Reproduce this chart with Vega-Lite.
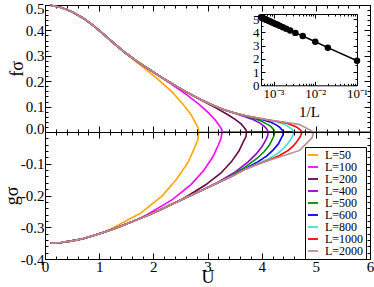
{
"$schema":"https://vega.github.io/schema/vega-lite/v6.json",
"padding":{"left":2,"top":0,"right":0,"bottom":0},
"datasets":{
"f":[
{"L":"L=50","U":0.1,"f":0.499},{"L":"L=50","U":0.3,"f":0.49},{"L":"L=50","U":0.5,"f":0.473},{"L":"L=50","U":0.7,"f":0.449},{"L":"L=50","U":0.9,"f":0.418},{"L":"L=50","U":1.1,"f":0.381},{"L":"L=50","U":1.3,"f":0.344},{"L":"L=50","U":1.5,"f":0.309},{"L":"L=50","U":1.64,"f":0.284},{"L":"L=50","U":2.04,"f":0.216},{"L":"L=50","U":2.34,"f":0.159},{"L":"L=50","U":2.54,"f":0.111},{"L":"L=50","U":2.69,"f":0.07},{"L":"L=50","U":2.78,"f":0.036},{"L":"L=50","U":2.825,"f":0.017},{"L":"L=50","U":2.84,"f":0},{"L":"L=50","U":6,"f":0},
{"L":"L=100","U":0.1,"f":0.499},{"L":"L=100","U":0.3,"f":0.49},{"L":"L=100","U":0.5,"f":0.473},{"L":"L=100","U":0.7,"f":0.449},{"L":"L=100","U":0.9,"f":0.418},{"L":"L=100","U":1.1,"f":0.381},{"L":"L=100","U":1.3,"f":0.344},{"L":"L=100","U":1.5,"f":0.309},{"L":"L=100","U":1.7,"f":0.278},{"L":"L=100","U":1.9,"f":0.25},{"L":"L=100","U":2.1,"f":0.222},{"L":"L=100","U":2.25,"f":0.2},{"L":"L=100","U":2.59,"f":0.151},{"L":"L=100","U":2.845,"f":0.109},{"L":"L=100","U":3.015,"f":0.076},{"L":"L=100","U":3.14,"f":0.048},{"L":"L=100","U":3.22,"f":0.025},{"L":"L=100","U":3.26,"f":0.012},{"L":"L=100","U":3.27,"f":0},{"L":"L=100","U":6,"f":0},
{"L":"L=200","U":0.1,"f":0.499},{"L":"L=200","U":0.3,"f":0.49},{"L":"L=200","U":0.5,"f":0.473},{"L":"L=200","U":0.7,"f":0.449},{"L":"L=200","U":0.9,"f":0.418},{"L":"L=200","U":1.1,"f":0.381},{"L":"L=200","U":1.3,"f":0.344},{"L":"L=200","U":1.5,"f":0.309},{"L":"L=200","U":1.7,"f":0.278},{"L":"L=200","U":1.9,"f":0.25},{"L":"L=200","U":2.1,"f":0.222},{"L":"L=200","U":2.3,"f":0.196},{"L":"L=200","U":2.5,"f":0.171},{"L":"L=200","U":2.7,"f":0.147},{"L":"L=200","U":2.88,"f":0.126},{"L":"L=200","U":3.16,"f":0.094},{"L":"L=200","U":3.37,"f":0.069},{"L":"L=200","U":3.51,"f":0.05},{"L":"L=200","U":3.62,"f":0.032},{"L":"L=200","U":3.68,"f":0.017},{"L":"L=200","U":3.71,"f":0.008},{"L":"L=200","U":3.72,"f":0},{"L":"L=200","U":6,"f":0},
{"L":"L=400","U":0.1,"f":0.499},{"L":"L=400","U":0.3,"f":0.49},{"L":"L=400","U":0.5,"f":0.473},{"L":"L=400","U":0.7,"f":0.449},{"L":"L=400","U":0.9,"f":0.418},{"L":"L=400","U":1.1,"f":0.381},{"L":"L=400","U":1.3,"f":0.344},{"L":"L=400","U":1.5,"f":0.309},{"L":"L=400","U":1.7,"f":0.278},{"L":"L=400","U":1.9,"f":0.25},{"L":"L=400","U":2.1,"f":0.222},{"L":"L=400","U":2.3,"f":0.196},{"L":"L=400","U":2.5,"f":0.171},{"L":"L=400","U":2.7,"f":0.147},{"L":"L=400","U":2.9,"f":0.125},{"L":"L=400","U":3.1,"f":0.105},{"L":"L=400","U":3.3,"f":0.088},{"L":"L=400","U":3.46,"f":0.077},{"L":"L=400","U":3.68,"f":0.061},{"L":"L=400","U":3.85,"f":0.048},{"L":"L=400","U":3.96,"f":0.036},{"L":"L=400","U":4.04,"f":0.024},{"L":"L=400","U":4.09,"f":0.013},{"L":"L=400","U":4.11,"f":0.006},{"L":"L=400","U":4.12,"f":0},{"L":"L=400","U":6,"f":0},
{"L":"L=500","U":0.1,"f":0.499},{"L":"L=500","U":0.3,"f":0.49},{"L":"L=500","U":0.5,"f":0.473},{"L":"L=500","U":0.7,"f":0.449},{"L":"L=500","U":0.9,"f":0.418},{"L":"L=500","U":1.1,"f":0.381},{"L":"L=500","U":1.3,"f":0.344},{"L":"L=500","U":1.5,"f":0.309},{"L":"L=500","U":1.7,"f":0.278},{"L":"L=500","U":1.9,"f":0.25},{"L":"L=500","U":2.1,"f":0.222},{"L":"L=500","U":2.3,"f":0.196},{"L":"L=500","U":2.5,"f":0.171},{"L":"L=500","U":2.7,"f":0.147},{"L":"L=500","U":2.9,"f":0.125},{"L":"L=500","U":3.1,"f":0.105},{"L":"L=500","U":3.3,"f":0.088},{"L":"L=500","U":3.5,"f":0.075},{"L":"L=500","U":3.64,"f":0.067},{"L":"L=500","U":3.84,"f":0.055},{"L":"L=500","U":3.99,"f":0.043},{"L":"L=500","U":4.09,"f":0.032},{"L":"L=500","U":4.17,"f":0.022},{"L":"L=500","U":4.21,"f":0.012},{"L":"L=500","U":4.23,"f":0.006},{"L":"L=500","U":4.24,"f":0},{"L":"L=500","U":6,"f":0},
{"L":"L=600","U":0.1,"f":0.499},{"L":"L=600","U":0.3,"f":0.49},{"L":"L=600","U":0.5,"f":0.473},{"L":"L=600","U":0.7,"f":0.449},{"L":"L=600","U":0.9,"f":0.418},{"L":"L=600","U":1.1,"f":0.381},{"L":"L=600","U":1.3,"f":0.344},{"L":"L=600","U":1.5,"f":0.309},{"L":"L=600","U":1.7,"f":0.278},{"L":"L=600","U":1.9,"f":0.25},{"L":"L=600","U":2.1,"f":0.222},{"L":"L=600","U":2.3,"f":0.196},{"L":"L=600","U":2.5,"f":0.171},{"L":"L=600","U":2.7,"f":0.147},{"L":"L=600","U":2.9,"f":0.125},{"L":"L=600","U":3.1,"f":0.105},{"L":"L=600","U":3.3,"f":0.088},{"L":"L=600","U":3.5,"f":0.075},{"L":"L=600","U":3.7,"f":0.064},{"L":"L=600","U":3.84,"f":0.058},{"L":"L=600","U":4.02,"f":0.048},{"L":"L=600","U":4.17,"f":0.038},{"L":"L=600","U":4.26,"f":0.029},{"L":"L=600","U":4.33,"f":0.019},{"L":"L=600","U":4.37,"f":0.01},{"L":"L=600","U":4.39,"f":0.005},{"L":"L=600","U":4.4,"f":0},{"L":"L=600","U":6,"f":0},
{"L":"L=800","U":0.1,"f":0.499},{"L":"L=800","U":0.3,"f":0.49},{"L":"L=800","U":0.5,"f":0.473},{"L":"L=800","U":0.7,"f":0.449},{"L":"L=800","U":0.9,"f":0.418},{"L":"L=800","U":1.1,"f":0.381},{"L":"L=800","U":1.3,"f":0.344},{"L":"L=800","U":1.5,"f":0.309},{"L":"L=800","U":1.7,"f":0.278},{"L":"L=800","U":1.9,"f":0.25},{"L":"L=800","U":2.1,"f":0.222},{"L":"L=800","U":2.3,"f":0.196},{"L":"L=800","U":2.5,"f":0.171},{"L":"L=800","U":2.7,"f":0.147},{"L":"L=800","U":2.9,"f":0.125},{"L":"L=800","U":3.1,"f":0.105},{"L":"L=800","U":3.3,"f":0.088},{"L":"L=800","U":3.5,"f":0.075},{"L":"L=800","U":3.7,"f":0.064},{"L":"L=800","U":3.9,"f":0.056},{"L":"L=800","U":4.09,"f":0.048},{"L":"L=800","U":4.25,"f":0.041},{"L":"L=800","U":4.38,"f":0.033},{"L":"L=800","U":4.46,"f":0.025},{"L":"L=800","U":4.53,"f":0.016},{"L":"L=800","U":4.57,"f":0.009},{"L":"L=800","U":4.58,"f":0.004},{"L":"L=800","U":4.59,"f":0},{"L":"L=800","U":6,"f":0},
{"L":"L=1000","U":0.1,"f":0.499},{"L":"L=1000","U":0.3,"f":0.49},{"L":"L=1000","U":0.5,"f":0.473},{"L":"L=1000","U":0.7,"f":0.449},{"L":"L=1000","U":0.9,"f":0.418},{"L":"L=1000","U":1.1,"f":0.381},{"L":"L=1000","U":1.3,"f":0.344},{"L":"L=1000","U":1.5,"f":0.309},{"L":"L=1000","U":1.7,"f":0.278},{"L":"L=1000","U":1.9,"f":0.25},{"L":"L=1000","U":2.1,"f":0.222},{"L":"L=1000","U":2.3,"f":0.196},{"L":"L=1000","U":2.5,"f":0.171},{"L":"L=1000","U":2.7,"f":0.147},{"L":"L=1000","U":2.9,"f":0.125},{"L":"L=1000","U":3.1,"f":0.105},{"L":"L=1000","U":3.3,"f":0.088},{"L":"L=1000","U":3.5,"f":0.075},{"L":"L=1000","U":3.7,"f":0.064},{"L":"L=1000","U":3.9,"f":0.056},{"L":"L=1000","U":4.1,"f":0.048},{"L":"L=1000","U":4.28,"f":0.042},{"L":"L=1000","U":4.44,"f":0.036},{"L":"L=1000","U":4.55,"f":0.028},{"L":"L=1000","U":4.63,"f":0.021},{"L":"L=1000","U":4.68,"f":0.014},{"L":"L=1000","U":4.72,"f":0.007},{"L":"L=1000","U":4.73,"f":0.004},{"L":"L=1000","U":4.74,"f":0},{"L":"L=1000","U":6,"f":0},
{"L":"L=2000","U":0.1,"f":0.499},{"L":"L=2000","U":0.3,"f":0.49},{"L":"L=2000","U":0.5,"f":0.473},{"L":"L=2000","U":0.7,"f":0.449},{"L":"L=2000","U":0.9,"f":0.418},{"L":"L=2000","U":1.1,"f":0.381},{"L":"L=2000","U":1.3,"f":0.344},{"L":"L=2000","U":1.5,"f":0.309},{"L":"L=2000","U":1.7,"f":0.278},{"L":"L=2000","U":1.9,"f":0.25},{"L":"L=2000","U":2.1,"f":0.222},{"L":"L=2000","U":2.3,"f":0.196},{"L":"L=2000","U":2.5,"f":0.171},{"L":"L=2000","U":2.7,"f":0.147},{"L":"L=2000","U":2.9,"f":0.125},{"L":"L=2000","U":3.1,"f":0.105},{"L":"L=2000","U":3.3,"f":0.088},{"L":"L=2000","U":3.5,"f":0.075},{"L":"L=2000","U":3.7,"f":0.064},{"L":"L=2000","U":3.9,"f":0.056},{"L":"L=2000","U":4.1,"f":0.048},{"L":"L=2000","U":4.3,"f":0.042},{"L":"L=2000","U":4.5,"f":0.036},{"L":"L=2000","U":4.7,"f":0.029},{"L":"L=2000","U":4.96,"f":0},{"L":"L=2000","U":6,"f":0}
],
"g":[
{"L":"L=50","U":0.1,"g":-0.35},{"L":"L=50","U":0.3,"g":-0.348},{"L":"L=50","U":0.5,"g":-0.343},{"L":"L=50","U":0.7,"g":-0.336},{"L":"L=50","U":0.9,"g":-0.326},{"L":"L=50","U":1.1,"g":-0.315},{"L":"L=50","U":1.22,"g":-0.305},{"L":"L=50","U":1.76,"g":-0.256},{"L":"L=50","U":2.165,"g":-0.201},{"L":"L=50","U":2.435,"g":-0.147},{"L":"L=50","U":2.64,"g":-0.096},{"L":"L=50","U":2.76,"g":-0.05},{"L":"L=50","U":2.82,"g":-0.025},{"L":"L=50","U":2.84,"g":0},
{"L":"L=100","U":0.1,"g":-0.35},{"L":"L=100","U":0.3,"g":-0.348},{"L":"L=100","U":0.5,"g":-0.343},{"L":"L=100","U":0.7,"g":-0.336},{"L":"L=100","U":0.9,"g":-0.326},{"L":"L=100","U":1.1,"g":-0.315},{"L":"L=100","U":1.3,"g":-0.303},{"L":"L=100","U":1.5,"g":-0.29},{"L":"L=100","U":1.7,"g":-0.276},{"L":"L=100","U":1.89,"g":-0.26},{"L":"L=100","U":2.35,"g":-0.213},{"L":"L=100","U":2.7,"g":-0.165},{"L":"L=100","U":2.93,"g":-0.121},{"L":"L=100","U":3.1,"g":-0.078},{"L":"L=100","U":3.2,"g":-0.041},{"L":"L=100","U":3.25,"g":-0.02},{"L":"L=100","U":3.27,"g":0},
{"L":"L=200","U":0.1,"g":-0.35},{"L":"L=200","U":0.3,"g":-0.348},{"L":"L=200","U":0.5,"g":-0.343},{"L":"L=200","U":0.7,"g":-0.336},{"L":"L=200","U":0.9,"g":-0.326},{"L":"L=200","U":1.1,"g":-0.315},{"L":"L=200","U":1.3,"g":-0.303},{"L":"L=200","U":1.5,"g":-0.29},{"L":"L=200","U":1.7,"g":-0.276},{"L":"L=200","U":1.9,"g":-0.262},{"L":"L=200","U":2.1,"g":-0.247},{"L":"L=200","U":2.3,"g":-0.231},{"L":"L=200","U":2.5,"g":-0.215},{"L":"L=200","U":2.58,"g":-0.207},{"L":"L=200","U":2.96,"g":-0.167},{"L":"L=200","U":3.25,"g":-0.129},{"L":"L=200","U":3.44,"g":-0.094},{"L":"L=200","U":3.58,"g":-0.06},{"L":"L=200","U":3.66,"g":-0.031},{"L":"L=200","U":3.71,"g":-0.015},{"L":"L=200","U":3.72,"g":0},
{"L":"L=400","U":0.1,"g":-0.35},{"L":"L=400","U":0.3,"g":-0.348},{"L":"L=400","U":0.5,"g":-0.343},{"L":"L=400","U":0.7,"g":-0.336},{"L":"L=400","U":0.9,"g":-0.326},{"L":"L=400","U":1.1,"g":-0.315},{"L":"L=400","U":1.3,"g":-0.303},{"L":"L=400","U":1.5,"g":-0.29},{"L":"L=400","U":1.7,"g":-0.276},{"L":"L=400","U":1.9,"g":-0.262},{"L":"L=400","U":2.1,"g":-0.247},{"L":"L=400","U":2.3,"g":-0.231},{"L":"L=400","U":2.5,"g":-0.215},{"L":"L=400","U":2.7,"g":-0.199},{"L":"L=400","U":2.9,"g":-0.183},{"L":"L=400","U":3.1,"g":-0.167},{"L":"L=400","U":3.22,"g":-0.156},{"L":"L=400","U":3.52,"g":-0.125},{"L":"L=400","U":3.75,"g":-0.094},{"L":"L=400","U":3.9,"g":-0.069},{"L":"L=400","U":4.01,"g":-0.045},{"L":"L=400","U":4.08,"g":-0.024},{"L":"L=400","U":4.11,"g":-0.012},{"L":"L=400","U":4.12,"g":0},
{"L":"L=500","U":0.1,"g":-0.35},{"L":"L=500","U":0.3,"g":-0.348},{"L":"L=500","U":0.5,"g":-0.343},{"L":"L=500","U":0.7,"g":-0.336},{"L":"L=500","U":0.9,"g":-0.326},{"L":"L=500","U":1.1,"g":-0.315},{"L":"L=500","U":1.3,"g":-0.303},{"L":"L=500","U":1.5,"g":-0.29},{"L":"L=500","U":1.7,"g":-0.276},{"L":"L=500","U":1.9,"g":-0.262},{"L":"L=500","U":2.1,"g":-0.247},{"L":"L=500","U":2.3,"g":-0.231},{"L":"L=500","U":2.5,"g":-0.215},{"L":"L=500","U":2.7,"g":-0.199},{"L":"L=500","U":2.9,"g":-0.183},{"L":"L=500","U":3.1,"g":-0.167},{"L":"L=500","U":3.3,"g":-0.151},{"L":"L=500","U":3.42,"g":-0.14},{"L":"L=500","U":3.7,"g":-0.11},{"L":"L=500","U":3.9,"g":-0.085},{"L":"L=500","U":4.04,"g":-0.063},{"L":"L=500","U":4.14,"g":-0.042},{"L":"L=500","U":4.2,"g":-0.022},{"L":"L=500","U":4.23,"g":-0.011},{"L":"L=500","U":4.24,"g":0},
{"L":"L=600","U":0.1,"g":-0.35},{"L":"L=600","U":0.3,"g":-0.348},{"L":"L=600","U":0.5,"g":-0.343},{"L":"L=600","U":0.7,"g":-0.336},{"L":"L=600","U":0.9,"g":-0.326},{"L":"L=600","U":1.1,"g":-0.315},{"L":"L=600","U":1.3,"g":-0.303},{"L":"L=600","U":1.5,"g":-0.29},{"L":"L=600","U":1.7,"g":-0.276},{"L":"L=600","U":1.9,"g":-0.262},{"L":"L=600","U":2.1,"g":-0.247},{"L":"L=600","U":2.3,"g":-0.231},{"L":"L=600","U":2.5,"g":-0.215},{"L":"L=600","U":2.7,"g":-0.199},{"L":"L=600","U":2.9,"g":-0.183},{"L":"L=600","U":3.1,"g":-0.167},{"L":"L=600","U":3.3,"g":-0.151},{"L":"L=600","U":3.5,"g":-0.135},{"L":"L=600","U":3.64,"g":-0.121},{"L":"L=600","U":3.9,"g":-0.097},{"L":"L=600","U":4.09,"g":-0.076},{"L":"L=600","U":4.21,"g":-0.057},{"L":"L=600","U":4.31,"g":-0.037},{"L":"L=600","U":4.36,"g":-0.02},{"L":"L=600","U":4.39,"g":-0.01},{"L":"L=600","U":4.4,"g":0},
{"L":"L=800","U":0.1,"g":-0.35},{"L":"L=800","U":0.3,"g":-0.348},{"L":"L=800","U":0.5,"g":-0.343},{"L":"L=800","U":0.7,"g":-0.336},{"L":"L=800","U":0.9,"g":-0.326},{"L":"L=800","U":1.1,"g":-0.315},{"L":"L=800","U":1.3,"g":-0.303},{"L":"L=800","U":1.5,"g":-0.29},{"L":"L=800","U":1.7,"g":-0.276},{"L":"L=800","U":1.9,"g":-0.262},{"L":"L=800","U":2.1,"g":-0.247},{"L":"L=800","U":2.3,"g":-0.231},{"L":"L=800","U":2.5,"g":-0.215},{"L":"L=800","U":2.7,"g":-0.199},{"L":"L=800","U":2.9,"g":-0.183},{"L":"L=800","U":3.1,"g":-0.167},{"L":"L=800","U":3.3,"g":-0.151},{"L":"L=800","U":3.5,"g":-0.135},{"L":"L=800","U":3.7,"g":-0.117},{"L":"L=800","U":3.91,"g":-0.101},{"L":"L=800","U":4.13,"g":-0.084},{"L":"L=800","U":4.31,"g":-0.066},{"L":"L=800","U":4.42,"g":-0.049},{"L":"L=800","U":4.5,"g":-0.032},{"L":"L=800","U":4.56,"g":-0.017},{"L":"L=800","U":4.58,"g":-0.008},{"L":"L=800","U":4.59,"g":0},
{"L":"L=1000","U":0.1,"g":-0.35},{"L":"L=1000","U":0.3,"g":-0.348},{"L":"L=1000","U":0.5,"g":-0.343},{"L":"L=1000","U":0.7,"g":-0.336},{"L":"L=1000","U":0.9,"g":-0.326},{"L":"L=1000","U":1.1,"g":-0.315},{"L":"L=1000","U":1.3,"g":-0.303},{"L":"L=1000","U":1.5,"g":-0.29},{"L":"L=1000","U":1.7,"g":-0.276},{"L":"L=1000","U":1.9,"g":-0.262},{"L":"L=1000","U":2.1,"g":-0.247},{"L":"L=1000","U":2.3,"g":-0.231},{"L":"L=1000","U":2.5,"g":-0.215},{"L":"L=1000","U":2.7,"g":-0.199},{"L":"L=1000","U":2.9,"g":-0.183},{"L":"L=1000","U":3.1,"g":-0.167},{"L":"L=1000","U":3.3,"g":-0.151},{"L":"L=1000","U":3.5,"g":-0.135},{"L":"L=1000","U":3.7,"g":-0.117},{"L":"L=1000","U":3.9,"g":-0.103},{"L":"L=1000","U":4.13,"g":-0.089},{"L":"L=1000","U":4.33,"g":-0.074},{"L":"L=1000","U":4.49,"g":-0.058},{"L":"L=1000","U":4.59,"g":-0.043},{"L":"L=1000","U":4.66,"g":-0.028},{"L":"L=1000","U":4.71,"g":-0.015},{"L":"L=1000","U":4.73,"g":-0.007},{"L":"L=1000","U":4.74,"g":0},
{"L":"L=2000","U":0.1,"g":-0.35},{"L":"L=2000","U":0.3,"g":-0.348},{"L":"L=2000","U":0.5,"g":-0.343},{"L":"L=2000","U":0.7,"g":-0.336},{"L":"L=2000","U":0.9,"g":-0.326},{"L":"L=2000","U":1.1,"g":-0.315},{"L":"L=2000","U":1.3,"g":-0.303},{"L":"L=2000","U":1.5,"g":-0.29},{"L":"L=2000","U":1.7,"g":-0.276},{"L":"L=2000","U":1.9,"g":-0.262},{"L":"L=2000","U":2.1,"g":-0.247},{"L":"L=2000","U":2.3,"g":-0.231},{"L":"L=2000","U":2.5,"g":-0.215},{"L":"L=2000","U":2.7,"g":-0.199},{"L":"L=2000","U":2.9,"g":-0.183},{"L":"L=2000","U":3.1,"g":-0.167},{"L":"L=2000","U":3.3,"g":-0.151},{"L":"L=2000","U":3.5,"g":-0.135},{"L":"L=2000","U":3.7,"g":-0.117},{"L":"L=2000","U":3.9,"g":-0.103},{"L":"L=2000","U":4.1,"g":-0.091},{"L":"L=2000","U":4.3,"g":-0.08},{"L":"L=2000","U":4.5,"g":-0.069},{"L":"L=2000","U":4.7,"g":-0.058},{"L":"L=2000","U":4.93,"g":-0.018},{"L":"L=2000","U":4.96,"g":0}
],
"inset":[
{"invL":0.1,"Uc":1.86},{"invL":0.02,"Uc":2.85},{"invL":0.01,"Uc":3.3},{"invL":0.005,"Uc":3.73},{"invL":0.003333,"Uc":3.97},{"invL":0.0025,"Uc":4.15},{"invL":0.002,"Uc":4.29},{"invL":0.0016667,"Uc":4.4},{"invL":0.0014286,"Uc":4.5},{"invL":0.00125,"Uc":4.58},{"invL":0.0011111,"Uc":4.65},{"invL":0.001,"Uc":4.72},{"invL":0.00090909,"Uc":4.78},{"invL":0.00083333,"Uc":4.83},{"invL":0.00076923,"Uc":4.88},{"invL":0.00071429,"Uc":4.93},{"invL":0.00066667,"Uc":4.97},{"invL":0.000625,"Uc":5.01},{"invL":0.00058824,"Uc":5.05},{"invL":0.00055556,"Uc":5.09},{"invL":0.00052632,"Uc":5.12},{"invL":0.0005,"Uc":5.15}
]
},
"vconcat":[
{
"width":325,"height":127,
"layer":[
{"data":{"name":"f"},
"mark":{"type":"line","strokeWidth":1.6,"clip":false},
"encoding":{
"x":{"field":"U","type":"quantitative","scale":{"domain":[0,6],"nice":false,"zero":false},
"axis":{"orient":"bottom","values":[0,0.2,0.4,0.6,0.8,1,1.2,1.4,1.6,1.8,2,2.2,2.4,2.6,2.8,3,3.2,3.4,3.6,3.8,4,4.2,4.4,4.6,4.8,5,5.2,5.4,5.6,5.8,6],
"tickSize":{"condition":{"test":"abs(datum.value - round(datum.value)) < 0.001","value":-6},"value":-3},"labels":false,"title":null,"zindex":1}},
"y":{"field":"f","type":"quantitative","scale":{"domain":[0,0.5],"nice":false},
"axis":{"orient":"left","values":[0,0.02,0.04,0.06,0.08,0.1,0.12,0.14,0.16,0.18,0.2,0.22,0.24,0.26,0.28,0.3,0.32,0.34,0.36,0.38,0.4,0.42,0.44,0.46,0.48,0.5],
"tickSize":{"condition":{"test":"abs(datum.value*10 - round(datum.value*10)) < 0.001","value":-6},"value":-3},
"labelExpr":"abs(datum.value*10 - round(datum.value*10)) < 0.001 ? format(datum.value, '.1f') : ''","labelPadding":7,"labelFlush":true,"labelFlushOffset":4,"title":"fσ","titlePadding":-1}},
"color":{"field":"L","type":"nominal","scale":{"domain":["L=50","L=100","L=200","L=400","L=500","L=600","L=800","L=1000","L=2000"],"range":["#ffa500","#ff00ff","#670748","#9400d3","#008b00","#0000ff","#40e0d0","#ff0000","#bc8f8f"]},"legend":null}
}},
{"data":{"name":"f"},
"mark":{"type":"point","opacity":0},
"encoding":{
"x":{"field":"U","type":"quantitative","scale":{"domain":[0,6],"nice":false,"zero":false},
"axis":{"orient":"top","values":[0,0.2,0.4,0.6,0.8,1,1.2,1.4,1.6,1.8,2,2.2,2.4,2.6,2.8,3,3.2,3.4,3.6,3.8,4,4.2,4.4,4.6,4.8,5,5.2,5.4,5.6,5.8,6],
"tickSize":{"condition":{"test":"abs(datum.value - round(datum.value)) < 0.001","value":-6},"value":-3},"labels":false,"title":null}},
"y":{"field":"f","type":"quantitative","scale":{"domain":[0,0.5],"nice":false},
"axis":{"orient":"right","values":[0,0.02,0.04,0.06,0.08,0.1,0.12,0.14,0.16,0.18,0.2,0.22,0.24,0.26,0.28,0.3,0.32,0.34,0.36,0.38,0.4,0.42,0.44,0.46,0.48,0.5],
"tickSize":{"condition":{"test":"abs(datum.value*10 - round(datum.value*10)) < 0.001","value":-6},"value":-3},"labels":false,"title":null}}
}},
{"data":{"name":"inset"},
"encoding":{
"x":{"field":"invL","type":"quantitative","scale":{"type":"log","domain":[0.0005,0.1],"range":[216,312],"nice":false},
"axis":{"orient":"bottom","offset":-46.7,"values":[0.0005,0.0006,0.0007,0.0008,0.0009,0.001,0.002,0.003,0.004,0.005,0.006,0.007,0.008,0.009,0.01,0.02,0.03,0.04,0.05,0.06,0.07,0.08,0.09,0.1],
"tickSize":{"condition":{"test":"datum.value == 0.001 || datum.value == 0.01 || datum.value == 0.1","value":-4},"value":-2},
"labelExpr":"datum.value == 0.001 ? '10⁻³' : datum.value == 0.01 ? '10⁻²' : datum.value == 0.1 ? '10⁻¹' : ''",
"labelFontSize":13,"labelPadding":6,"title":"1/L","titleFontSize":15,"titlePadding":2}},
"y":{"field":"Uc","type":"quantitative","scale":{"domain":[0,5.4],"range":[80.3,9],"nice":false},
"axis":{"orient":"left","offset":-216,"values":[0,0.5,1,1.5,2,2.5,3,3.5,4,4.5,5],
"tickSize":{"condition":{"test":"datum.value % 1 == 0","value":-4},"value":-2},
"labelExpr":"datum.value % 1 == 0 ? format(datum.value, 'd') : ''","labelFontSize":13,"labelPadding":6,"title":null}}
},
"layer":[
{"mark":{"type":"line","color":"black","strokeWidth":1.5,"clip":false}},
{"mark":{"type":"circle","color":"black","size":42,"opacity":1,"clip":false}}
]},
{"data":{"name":"inset"},
"mark":{"type":"point","opacity":0},
"encoding":{
"x":{"field":"invL","type":"quantitative","scale":{"type":"log","domain":[0.0005,0.1],"range":[216,312],"nice":false},
"axis":{"orient":"top","offset":-9,"values":[0.0005,0.0006,0.0007,0.0008,0.0009,0.001,0.002,0.003,0.004,0.005,0.006,0.007,0.008,0.009,0.01,0.02,0.03,0.04,0.05,0.06,0.07,0.08,0.09,0.1],
"tickSize":{"condition":{"test":"datum.value == 0.001 || datum.value == 0.01 || datum.value == 0.1","value":-4},"value":-2},"labels":false,"title":null}},
"y":{"field":"Uc","type":"quantitative","scale":{"domain":[0,5.4],"range":[80.3,9],"nice":false},
"axis":{"orient":"right","offset":-13,"values":[0,0.5,1,1.5,2,2.5,3,3.5,4,4.5,5],
"tickSize":{"condition":{"test":"datum.value % 1 == 0","value":-4},"value":-2},"labels":false,"title":null}}
}}
],
"resolve":{"scale":{"x":"independent","y":"independent"},"axis":{"x":"independent","y":"independent"}}
},
{
"width":325,"height":127,
"layer":[
{"data":{"name":"g"},
"mark":{"type":"line","strokeWidth":1.6,"clip":false},
"encoding":{
"x":{"field":"U","type":"quantitative","scale":{"domain":[0,6],"nice":false,"zero":false},
"axis":{"orient":"bottom","values":[0,0.2,0.4,0.6,0.8,1,1.2,1.4,1.6,1.8,2,2.2,2.4,2.6,2.8,3,3.2,3.4,3.6,3.8,4,4.2,4.4,4.6,4.8,5,5.2,5.4,5.6,5.8,6],
"tickSize":{"condition":{"test":"abs(datum.value - round(datum.value)) < 0.001","value":-6},"value":-3},
"labelExpr":"abs(datum.value - round(datum.value)) < 0.001 ? format(datum.value, 'd') : ''","labelPadding":6,"title":"U","titlePadding":-9}},
"y":{"field":"g","type":"quantitative","scale":{"domain":[-0.4,0],"nice":false,"zero":false},
"axis":{"orient":"left","values":[-0.4,-0.38,-0.36,-0.34,-0.32,-0.3,-0.28,-0.26,-0.24,-0.22,-0.2,-0.18,-0.16,-0.14,-0.12,-0.1,-0.08,-0.06,-0.04,-0.02,0],
"tickSize":{"condition":{"test":"abs(datum.value*10 - round(datum.value*10)) < 0.001","value":-6},"value":-3},
"labelExpr":"abs(datum.value*10 - round(datum.value*10)) < 0.001 && datum.value < -0.01 ? '-' + format(-datum.value, '.1f') : ''","labelPadding":7,"title":"gσ","titlePadding":-1}},
"color":{"field":"L","type":"nominal","scale":{"domain":["L=50","L=100","L=200","L=400","L=500","L=600","L=800","L=1000","L=2000"],"range":["#ffa500","#ff00ff","#670748","#9400d3","#008b00","#0000ff","#40e0d0","#ff0000","#bc8f8f"]},
"legend":{"title":null,"orient":"none","legendX":260,"legendY":15,"symbolSize":100,"symbolStrokeWidth":1.8,"rowPadding":0,"labelFontSize":12}}
}},
{"data":{"name":"g"},
"mark":{"type":"point","opacity":0},
"encoding":{
"x":{"field":"U","type":"quantitative","scale":{"domain":[0,6],"nice":false,"zero":false},
"axis":{"orient":"top","values":[0,0.2,0.4,0.6,0.8,1,1.2,1.4,1.6,1.8,2,2.2,2.4,2.6,2.8,3,3.2,3.4,3.6,3.8,4,4.2,4.4,4.6,4.8,5,5.2,5.4,5.6,5.8,6],
"tickSize":{"condition":{"test":"abs(datum.value - round(datum.value)) < 0.001","value":-6},"value":-3},"labels":false,"title":null,"zindex":1}},
"y":{"field":"g","type":"quantitative","scale":{"domain":[-0.4,0],"nice":false,"zero":false},
"axis":{"orient":"right","values":[-0.4,-0.38,-0.36,-0.34,-0.32,-0.3,-0.28,-0.26,-0.24,-0.22,-0.2,-0.18,-0.16,-0.14,-0.12,-0.1,-0.08,-0.06,-0.04,-0.02,0],
"tickSize":{"condition":{"test":"abs(datum.value*10 - round(datum.value*10)) < 0.001","value":-6},"value":-3},"labels":false,"title":null}}
}}
],
"resolve":{"scale":{"x":"independent","y":"independent"},"axis":{"x":"independent","y":"independent"}}
}
],
"spacing":0,
"bounds":"flush",
"resolve":{"legend":{"color":"independent"}},
"config":{
"view":{"stroke":"black","strokeWidth":1},
"axis":{"labelFont":"Liberation Serif","labelFontSize":15,"labelColor":"black","titleFont":"Liberation Serif","titleFontSize":18,"titleFontWeight":"normal","titleColor":"black","domainColor":"black","tickColor":"black","grid":false,"labelFlush":false,"labelOverlap":false,"labelBound":false},
"legend":{"labelFont":"Liberation Serif","labelFontSize":12,"labelColor":"black","symbolType":"stroke","strokeColor":"black","fillColor":"white","padding":2,"labelOffset":6}
}
}
